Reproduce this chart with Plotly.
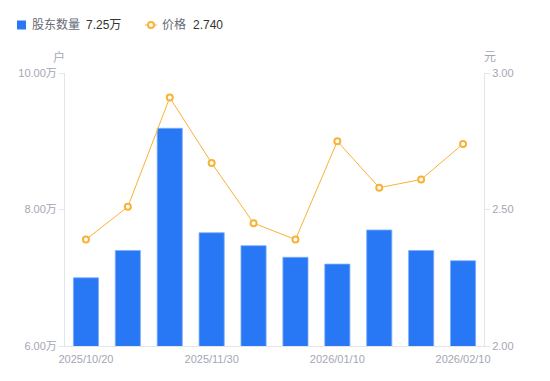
import plotly.graph_objects as go

dates = ["2025/10/20", "2025/10/31", "2025/11/10", "2025/11/30", "2025/12/10",
         "2025/12/31", "2026/01/10", "2026/01/20", "2026/01/31", "2026/02/10"]
holders_wan = [7.00, 7.40, 9.19, 7.66, 7.47, 7.30, 7.20, 7.70, 7.40, 7.25]
price = [2.39, 2.51, 2.91, 2.67, 2.45, 2.39, 2.75, 2.58, 2.61, 2.74]
tick_dates = ["2025/10/20", "2025/11/30", "2026/01/10", "2026/02/10"]
left_ticks = [6, 8, 10]
right_ticks = [2.0, 2.5, 3.0]

BLUE = "#2878F5"
ORANGE = "#F9B236"
GREY = "#A3A7B5"
AXIS = "#E3E5EA"
FONT = "Arial, Liberation Sans, Noto Sans CJK SC, sans-serif"

W, H = 550, 381
L, R, T, B = 65, 66, 73, 35
PW, PH = W - L - R, H - T - B


def px(x):
    return (x - L) / PW


def py(y):
    return (H - B - y) / PH


fig = go.Figure()
fig.add_trace(go.Bar(
    x=dates, y=holders_wan, name="股东数量",
    marker=dict(color=BLUE, line=dict(color="#7FAEF8", width=0.8)),
    width=0.6, yaxis="y", showlegend=False, hoverinfo="skip"))
fig.add_trace(go.Scatter(
    x=dates, y=price, name="价格", mode="lines+markers", yaxis="y2",
    line=dict(color=ORANGE, width=1),
    marker=dict(symbol="circle", size=6, color="white",
                line=dict(color=ORANGE, width=2)),
    showlegend=False, hoverinfo="skip"))

fig.update_layout(
    width=W, height=H,
    margin=dict(l=L, r=R, t=T, b=B),
    paper_bgcolor="white", plot_bgcolor="white",
    font=dict(family=FONT, size=11, color=GREY),
    xaxis=dict(type="category", categoryorder="array", categoryarray=dates,
               range=[-0.5, len(dates) - 0.5],
               tickmode="array", tickvals=tick_dates, ticktext=tick_dates,
               showline=True, linecolor=AXIS, linewidth=1, ticks="",
               showgrid=False, tickfont=dict(size=11, color=GREY),
               zeroline=False, ticklabelstandoff=3),
    yaxis=dict(range=[6, 10], tickmode="array", tickvals=left_ticks,
               ticktext=[f"{v:.2f}万" for v in left_ticks],
               showline=True, linecolor=AXIS, linewidth=1,
               ticks="outside", ticklen=5, tickcolor=AXIS, showgrid=False,
               zeroline=False, tickfont=dict(size=11, color=GREY)),
    yaxis2=dict(range=[2, 3], tickmode="array", tickvals=right_ticks,
                ticktext=[f"{v:.2f}" for v in right_ticks],
                overlaying="y", side="right", showline=True, linecolor=AXIS,
                linewidth=1, ticks="outside", ticklen=5, tickcolor=AXIS,
                showgrid=False, zeroline=False,
                tickfont=dict(size=11, color=GREY)),
    bargap=0.4,
)

ann = []
ann.append(dict(text="户", x=px(59), y=py(57), xref="paper", yref="paper",
                showarrow=False, font=dict(size=12, color=GREY),
                xanchor="center", yanchor="middle"))
ann.append(dict(text="元", x=px(490), y=py(57), xref="paper", yref="paper",
                showarrow=False, font=dict(size=12, color=GREY),
                xanchor="center", yanchor="middle"))

ly = 25
fig.add_shape(type="rect", xref="paper", yref="paper",
              x0=px(17), x1=px(26), y0=py(20.5), y1=py(29.5),
              fillcolor=BLUE, line=dict(width=0))
ann.append(dict(text="股东数量", x=px(30), y=py(ly), xref="paper", yref="paper",
                showarrow=False, font=dict(size=12, color="#666A75"),
                xanchor="left", yanchor="middle"))
ann.append(dict(text=f"{holders_wan[-1]:.2f}万", x=px(84), y=py(ly),
                xref="paper", yref="paper", showarrow=False,
                font=dict(size=12, color="#333333"),
                xanchor="left", yanchor="middle"))
fig.add_shape(type="line", xref="paper", yref="paper",
              x0=px(145), x1=px(157), y0=py(ly), y1=py(ly),
              line=dict(color=ORANGE, width=1))
fig.add_shape(type="circle", xref="paper", yref="paper",
              x0=px(148), x1=px(154), y0=py(ly - 3), y1=py(ly + 3),
              fillcolor="white", line=dict(color=ORANGE, width=2))
ann.append(dict(text="价格", x=px(160), y=py(ly), xref="paper", yref="paper",
                showarrow=False, font=dict(size=12, color="#666A75"),
                xanchor="left", yanchor="middle"))
ann.append(dict(text=f"{price[-1]:.3f}", x=px(191), y=py(ly),
                xref="paper", yref="paper", showarrow=False,
                font=dict(size=12, color="#333333"),
                xanchor="left", yanchor="middle"))
fig.update_layout(annotations=ann)

fig.write_html("out.html",
               config={"displayModeBar": False, "staticPlot": True},
               post_script="document.body.style.margin='0';"
                           "document.body.style.overflow='hidden';")
